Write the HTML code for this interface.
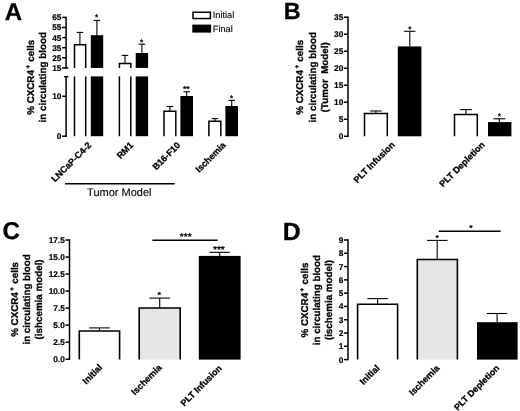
<!DOCTYPE html>
<html><head><meta charset="utf-8"><title>Figure</title>
<style>html,body{margin:0;padding:0;background:#fff;}svg{display:block;text-rendering:geometricPrecision;font-family:"Liberation Sans",sans-serif;}</style>
</head><body>
<svg width="520" height="411" viewBox="0 0 520 411" font-family="Liberation Sans, sans-serif" fill="#000">
<defs><filter id="soft" x="0" y="0" width="520" height="411" filterUnits="userSpaceOnUse"><feGaussianBlur stdDeviation="0.35"/></filter></defs>
<rect width="520" height="411" fill="#fff"/>
<g filter="url(#soft)">
<text x="4.70" y="19.60" font-size="24" font-weight="bold" text-anchor="start" stroke="#000" stroke-width="0.3" >A</text>
<text x="283.70" y="19.20" font-size="23.4" font-weight="bold" text-anchor="start" stroke="#000" stroke-width="0.3" >B</text>
<text x="2.50" y="239.30" font-size="24.2" font-weight="bold" text-anchor="start" stroke="#000" stroke-width="0.3" >C</text>
<text x="282.80" y="239.60" font-size="24.8" font-weight="bold" text-anchor="start" stroke="#000" stroke-width="0.3" >D</text>
<g id="panelA">
<line x1="66.10" y1="16.65" x2="66.10" y2="68.65" stroke="#000" stroke-width="1.5"/>
<line x1="62.10" y1="17.40" x2="66.10" y2="17.40" stroke="#000" stroke-width="1.5"/>
<text x="61.40" y="20.37" font-size="8.3" font-weight="bold" text-anchor="end" stroke="#000" stroke-width="0.2" >65</text>
<line x1="62.10" y1="27.50" x2="66.10" y2="27.50" stroke="#000" stroke-width="1.5"/>
<text x="61.40" y="30.47" font-size="8.3" font-weight="bold" text-anchor="end" stroke="#000" stroke-width="0.2" >55</text>
<line x1="62.10" y1="37.60" x2="66.10" y2="37.60" stroke="#000" stroke-width="1.5"/>
<text x="61.40" y="40.57" font-size="8.3" font-weight="bold" text-anchor="end" stroke="#000" stroke-width="0.2" >45</text>
<line x1="62.10" y1="47.70" x2="66.10" y2="47.70" stroke="#000" stroke-width="1.5"/>
<text x="61.40" y="50.67" font-size="8.3" font-weight="bold" text-anchor="end" stroke="#000" stroke-width="0.2" >35</text>
<line x1="62.10" y1="57.80" x2="66.10" y2="57.80" stroke="#000" stroke-width="1.5"/>
<text x="61.40" y="60.77" font-size="8.3" font-weight="bold" text-anchor="end" stroke="#000" stroke-width="0.2" >25</text>
<line x1="62.10" y1="67.90" x2="66.10" y2="67.90" stroke="#000" stroke-width="1.5"/>
<text x="61.40" y="70.87" font-size="8.3" font-weight="bold" text-anchor="end" stroke="#000" stroke-width="0.2" >15</text>
<line x1="66.10" y1="67.90" x2="68.30" y2="67.90" stroke="#000" stroke-width="1.5"/>
<line x1="66.10" y1="75.95" x2="66.10" y2="136.95" stroke="#000" stroke-width="1.5"/>
<line x1="63.90" y1="76.70" x2="68.30" y2="76.70" stroke="#000" stroke-width="1.5"/>
<line x1="62.10" y1="96.30" x2="66.10" y2="96.30" stroke="#000" stroke-width="1.5"/>
<text x="61.40" y="99.27" font-size="8.3" font-weight="bold" text-anchor="end" stroke="#000" stroke-width="0.2" >10</text>
<line x1="62.10" y1="136.20" x2="66.10" y2="136.20" stroke="#000" stroke-width="1.5"/>
<text x="61.40" y="139.17" font-size="8.3" font-weight="bold" text-anchor="end" stroke="#000" stroke-width="0.2" >0</text>
<text transform="translate(33.80,77.30) rotate(-90)" font-size="9.8" font-weight="bold" text-anchor="middle" stroke="#000" stroke-width="0.3">% CXCR4<tspan font-size="6.4" dy="-4.3" dx="1.5">+</tspan><tspan dy="4.3" dx="0.5"> </tspan>cells</text>
<text transform="translate(46.20,77.30) rotate(-90)" font-size="9.8" font-weight="bold" text-anchor="middle" stroke="#000" stroke-width="0.3">in circulating blood</text>
<rect x="74.50" y="44.70" width="11.20" height="23.20" fill="#fff"/>
<rect x="74.50" y="76.40" width="11.20" height="59.80" fill="#fff"/>
<path d="M74.50,67.90 L74.50,44.70 L85.70,44.70 L85.70,67.90" fill="none" stroke="#000" stroke-width="1.5" stroke-linejoin="miter"/>
<line x1="74.50" y1="76.40" x2="74.50" y2="136.20" stroke="#000" stroke-width="1.5"/>
<line x1="85.70" y1="76.40" x2="85.70" y2="136.20" stroke="#000" stroke-width="1.5"/>
<line x1="79.90" y1="32.40" x2="79.90" y2="44.70" stroke="#000" stroke-width="1.1"/>
<line x1="76.65" y1="32.40" x2="83.15" y2="32.40" stroke="#000" stroke-width="1.1"/>
<rect x="90.80" y="35.20" width="12.40" height="32.70" fill="#000"/>
<rect x="90.80" y="76.40" width="12.40" height="59.80" fill="#000"/>
<line x1="96.90" y1="20.40" x2="96.90" y2="35.20" stroke="#000" stroke-width="1.1"/>
<line x1="93.65" y1="20.40" x2="100.15" y2="20.40" stroke="#000" stroke-width="1.1"/>
<text x="96.70" y="20.40" font-size="8.2" font-weight="bold" text-anchor="middle" stroke="#000" stroke-width="0.1" >*</text>
<rect x="119.40" y="63.50" width="11.40" height="4.40" fill="#fff"/>
<rect x="119.40" y="76.40" width="11.40" height="59.80" fill="#fff"/>
<path d="M119.40,67.90 L119.40,63.50 L130.80,63.50 L130.80,67.90" fill="none" stroke="#000" stroke-width="1.5" stroke-linejoin="miter"/>
<line x1="119.40" y1="76.40" x2="119.40" y2="136.20" stroke="#000" stroke-width="1.5"/>
<line x1="130.80" y1="76.40" x2="130.80" y2="136.20" stroke="#000" stroke-width="1.5"/>
<line x1="125.00" y1="55.40" x2="125.00" y2="63.50" stroke="#000" stroke-width="1.1"/>
<line x1="121.75" y1="55.40" x2="128.25" y2="55.40" stroke="#000" stroke-width="1.1"/>
<rect x="135.70" y="53.00" width="12.40" height="14.90" fill="#000"/>
<rect x="135.70" y="76.40" width="12.40" height="59.80" fill="#000"/>
<line x1="141.90" y1="44.20" x2="141.90" y2="53.00" stroke="#000" stroke-width="1.1"/>
<line x1="138.65" y1="44.20" x2="145.15" y2="44.20" stroke="#000" stroke-width="1.1"/>
<text x="141.60" y="44.80" font-size="8.2" font-weight="bold" text-anchor="middle" stroke="#000" stroke-width="0.1" >*</text>
<rect x="164.00" y="111.30" width="11.80" height="24.90" fill="#fff"/>
<path d="M164.00,136.20 L164.00,111.30 L175.80,111.30 L175.80,136.20" fill="none" stroke="#000" stroke-width="1.5" stroke-linejoin="miter"/>
<line x1="169.90" y1="106.50" x2="169.90" y2="111.30" stroke="#000" stroke-width="1.1"/>
<line x1="166.65" y1="106.50" x2="173.15" y2="106.50" stroke="#000" stroke-width="1.1"/>
<rect x="180.40" y="96.00" width="12.60" height="40.20" fill="#000"/>
<line x1="186.70" y1="91.70" x2="186.70" y2="96.00" stroke="#000" stroke-width="1.1"/>
<line x1="183.45" y1="91.70" x2="189.95" y2="91.70" stroke="#000" stroke-width="1.1"/>
<text x="186.30" y="92.41" font-size="8.6" font-weight="bold" text-anchor="middle" stroke="#000" stroke-width="0.1" >**</text>
<rect x="208.90" y="121.20" width="11.90" height="15.00" fill="#fff"/>
<path d="M208.90,136.20 L208.90,121.20 L220.80,121.20 L220.80,136.20" fill="none" stroke="#000" stroke-width="1.5" stroke-linejoin="miter"/>
<line x1="214.90" y1="118.60" x2="214.90" y2="121.20" stroke="#000" stroke-width="1.1"/>
<line x1="211.65" y1="118.60" x2="218.15" y2="118.60" stroke="#000" stroke-width="1.1"/>
<rect x="225.40" y="106.00" width="12.60" height="30.20" fill="#000"/>
<line x1="231.70" y1="100.40" x2="231.70" y2="106.00" stroke="#000" stroke-width="1.1"/>
<line x1="228.45" y1="100.40" x2="234.95" y2="100.40" stroke="#000" stroke-width="1.1"/>
<text x="231.70" y="101.00" font-size="8.2" font-weight="bold" text-anchor="middle" stroke="#000" stroke-width="0.1" >*</text>
<text transform="translate(91.90,145.80) rotate(-45)" font-size="9.0" font-weight="bold" text-anchor="end" stroke="#000" stroke-width="0.3">LNCaP-C4-2</text>
<text transform="translate(133.90,145.80) rotate(-45)" font-size="9.0" font-weight="bold" text-anchor="end" stroke="#000" stroke-width="0.3">RM1</text>
<text transform="translate(180.90,145.80) rotate(-45)" font-size="9.0" font-weight="bold" text-anchor="end" stroke="#000" stroke-width="0.3">B16-F10</text>
<text transform="translate(226.40,145.80) rotate(-45)" font-size="9.0" font-weight="bold" text-anchor="end" stroke="#000" stroke-width="0.3">Ischemia</text>
<line x1="65.00" y1="183.80" x2="174.60" y2="183.80" stroke="#000" stroke-width="1.5"/>
<text x="119.30" y="195.80" font-size="11" font-weight="normal" text-anchor="middle" stroke="#000" stroke-width="0.12" >Tumor Model</text>
<rect x="193.0" y="12.25" width="17.4" height="6.3" fill="#fff" stroke="#000" stroke-width="1.5"/>
<rect x="192.3" y="24.6" width="18.8" height="8.0" fill="#000"/>
<text x="212.80" y="18.30" font-size="9.2" font-weight="normal" text-anchor="start" stroke="#000" stroke-width="0.12" >Initial</text>
<text x="212.80" y="31.60" font-size="9.2" font-weight="normal" text-anchor="start" stroke="#000" stroke-width="0.12" >Final</text>
</g>
<g id="panelB">
<line x1="348.00" y1="16.45" x2="348.00" y2="137.05" stroke="#000" stroke-width="1.5"/>
<line x1="344.00" y1="17.20" x2="348.00" y2="17.20" stroke="#000" stroke-width="1.5"/>
<text x="343.30" y="20.17" font-size="8.3" font-weight="bold" text-anchor="end" stroke="#000" stroke-width="0.2" >35</text>
<line x1="344.00" y1="34.21" x2="348.00" y2="34.21" stroke="#000" stroke-width="1.5"/>
<text x="343.30" y="37.19" font-size="8.3" font-weight="bold" text-anchor="end" stroke="#000" stroke-width="0.2" >30</text>
<line x1="344.00" y1="51.23" x2="348.00" y2="51.23" stroke="#000" stroke-width="1.5"/>
<text x="343.30" y="54.20" font-size="8.3" font-weight="bold" text-anchor="end" stroke="#000" stroke-width="0.2" >25</text>
<line x1="344.00" y1="68.24" x2="348.00" y2="68.24" stroke="#000" stroke-width="1.5"/>
<text x="343.30" y="71.21" font-size="8.3" font-weight="bold" text-anchor="end" stroke="#000" stroke-width="0.2" >20</text>
<line x1="344.00" y1="85.26" x2="348.00" y2="85.26" stroke="#000" stroke-width="1.5"/>
<text x="343.30" y="88.23" font-size="8.3" font-weight="bold" text-anchor="end" stroke="#000" stroke-width="0.2" >15</text>
<line x1="344.00" y1="102.27" x2="348.00" y2="102.27" stroke="#000" stroke-width="1.5"/>
<text x="343.30" y="105.24" font-size="8.3" font-weight="bold" text-anchor="end" stroke="#000" stroke-width="0.2" >10</text>
<line x1="344.00" y1="119.29" x2="348.00" y2="119.29" stroke="#000" stroke-width="1.5"/>
<text x="343.30" y="122.26" font-size="8.3" font-weight="bold" text-anchor="end" stroke="#000" stroke-width="0.2" >5</text>
<line x1="344.00" y1="136.30" x2="348.00" y2="136.30" stroke="#000" stroke-width="1.5"/>
<text x="343.30" y="139.27" font-size="8.3" font-weight="bold" text-anchor="end" stroke="#000" stroke-width="0.2" >0</text>
<text transform="translate(303.30,77.30) rotate(-90)" font-size="9.8" font-weight="bold" text-anchor="middle" stroke="#000" stroke-width="0.3">% CXCR4<tspan font-size="6.4" dy="-4.3" dx="1.5">+</tspan><tspan dy="4.3" dx="0.5"> </tspan>cells</text>
<text transform="translate(315.80,77.30) rotate(-90)" font-size="9.8" font-weight="bold" text-anchor="middle" stroke="#000" stroke-width="0.3">in circulating blood</text>
<text transform="translate(328.00,77.30) rotate(-90)" font-size="9.8" font-weight="bold" text-anchor="middle" stroke="#000" stroke-width="0.3">(Tumor&#160;&#160;Model)</text>
<rect x="364.50" y="113.60" width="22.80" height="22.70" fill="#fff"/>
<path d="M364.50,136.30 L364.50,113.60 L387.30,113.60 L387.30,136.30" fill="none" stroke="#000" stroke-width="1.5" stroke-linejoin="miter"/>
<line x1="375.90" y1="111.00" x2="375.90" y2="113.60" stroke="#000" stroke-width="1.1"/>
<line x1="370.15" y1="111.00" x2="381.65" y2="111.00" stroke="#000" stroke-width="1.1"/>
<rect x="397.80" y="46.40" width="23.60" height="89.90" fill="#000"/>
<line x1="409.80" y1="31.30" x2="409.80" y2="46.40" stroke="#000" stroke-width="1.1"/>
<line x1="404.10" y1="31.30" x2="415.50" y2="31.30" stroke="#000" stroke-width="1.1"/>
<text x="409.90" y="31.60" font-size="8.2" font-weight="bold" text-anchor="middle" stroke="#000" stroke-width="0.1" >*</text>
<rect x="454.50" y="114.40" width="22.80" height="21.90" fill="#fff"/>
<path d="M454.50,136.30 L454.50,114.40 L477.30,114.40 L477.30,136.30" fill="none" stroke="#000" stroke-width="1.5" stroke-linejoin="miter"/>
<line x1="465.90" y1="109.60" x2="465.90" y2="114.40" stroke="#000" stroke-width="1.1"/>
<line x1="459.90" y1="109.60" x2="471.90" y2="109.60" stroke="#000" stroke-width="1.1"/>
<rect x="488.00" y="122.10" width="23.40" height="14.20" fill="#000"/>
<line x1="499.40" y1="118.80" x2="499.40" y2="122.10" stroke="#000" stroke-width="1.1"/>
<line x1="493.40" y1="118.80" x2="505.40" y2="118.80" stroke="#000" stroke-width="1.1"/>
<text x="499.40" y="118.80" font-size="8.2" font-weight="bold" text-anchor="middle" stroke="#000" stroke-width="0.1" >*</text>
<text transform="translate(395.30,145.40) rotate(-45)" font-size="9.0" font-weight="bold" text-anchor="end" stroke="#000" stroke-width="0.3">PLT Infusion</text>
<text transform="translate(485.40,145.30) rotate(-45)" font-size="9.0" font-weight="bold" text-anchor="end" stroke="#000" stroke-width="0.3">PLT Depletion</text>
</g>
<g id="panelC">
<line x1="69.50" y1="239.25" x2="69.50" y2="359.95" stroke="#000" stroke-width="1.5"/>
<line x1="65.50" y1="240.00" x2="69.50" y2="240.00" stroke="#000" stroke-width="1.5"/>
<text x="64.80" y="242.97" font-size="8.3" font-weight="bold" text-anchor="end" stroke="#000" stroke-width="0.2" >17.5</text>
<line x1="65.50" y1="257.03" x2="69.50" y2="257.03" stroke="#000" stroke-width="1.5"/>
<text x="64.80" y="260.00" font-size="8.3" font-weight="bold" text-anchor="end" stroke="#000" stroke-width="0.2" >15.0</text>
<line x1="65.50" y1="274.06" x2="69.50" y2="274.06" stroke="#000" stroke-width="1.5"/>
<text x="64.80" y="277.03" font-size="8.3" font-weight="bold" text-anchor="end" stroke="#000" stroke-width="0.2" >12.5</text>
<line x1="65.50" y1="291.09" x2="69.50" y2="291.09" stroke="#000" stroke-width="1.5"/>
<text x="64.80" y="294.06" font-size="8.3" font-weight="bold" text-anchor="end" stroke="#000" stroke-width="0.2" >10.0</text>
<line x1="65.50" y1="308.11" x2="69.50" y2="308.11" stroke="#000" stroke-width="1.5"/>
<text x="64.80" y="311.09" font-size="8.3" font-weight="bold" text-anchor="end" stroke="#000" stroke-width="0.2" >7.5</text>
<line x1="65.50" y1="325.14" x2="69.50" y2="325.14" stroke="#000" stroke-width="1.5"/>
<text x="64.80" y="328.11" font-size="8.3" font-weight="bold" text-anchor="end" stroke="#000" stroke-width="0.2" >5.0</text>
<line x1="65.50" y1="342.17" x2="69.50" y2="342.17" stroke="#000" stroke-width="1.5"/>
<text x="64.80" y="345.14" font-size="8.3" font-weight="bold" text-anchor="end" stroke="#000" stroke-width="0.2" >2.5</text>
<line x1="65.50" y1="359.20" x2="69.50" y2="359.20" stroke="#000" stroke-width="1.5"/>
<text x="64.80" y="362.17" font-size="8.3" font-weight="bold" text-anchor="end" stroke="#000" stroke-width="0.2" >0.0</text>
<text transform="translate(18.30,299.40) rotate(-90)" font-size="9.8" font-weight="bold" text-anchor="middle" stroke="#000" stroke-width="0.3">% CXCR4<tspan font-size="6.4" dy="-4.3" dx="1.5">+</tspan><tspan dy="4.3" dx="0.5"> </tspan>cells</text>
<text transform="translate(30.10,299.40) rotate(-90)" font-size="9.8" font-weight="bold" text-anchor="middle" stroke="#000" stroke-width="0.3">in circulating blood</text>
<text transform="translate(41.50,299.40) rotate(-90)" font-size="9.8" font-weight="bold" text-anchor="middle" stroke="#000" stroke-width="0.3">(ishcemia model)</text>
<rect x="79.30" y="331.00" width="40.30" height="28.60" fill="#fff"/>
<path d="M79.30,359.60 L79.30,331.00 L119.60,331.00 L119.60,359.60" fill="none" stroke="#000" stroke-width="1.6" stroke-linejoin="miter"/>
<line x1="99.40" y1="327.90" x2="99.40" y2="331.00" stroke="#000" stroke-width="1.1"/>
<line x1="89.15" y1="327.90" x2="109.65" y2="327.90" stroke="#000" stroke-width="1.1"/>
<rect x="139.20" y="308.00" width="41.00" height="51.60" fill="#e6e6e6"/>
<path d="M139.20,359.60 L139.20,308.00 L180.20,308.00 L180.20,359.60" fill="none" stroke="#000" stroke-width="1.6" stroke-linejoin="miter"/>
<line x1="159.70" y1="298.10" x2="159.70" y2="308.00" stroke="#000" stroke-width="1.1"/>
<line x1="149.45" y1="298.10" x2="169.95" y2="298.10" stroke="#000" stroke-width="1.1"/>
<text x="159.30" y="298.41" font-size="9.0" font-weight="bold" text-anchor="middle" stroke="#000" stroke-width="0.1" >*</text>
<rect x="198.80" y="255.90" width="41.80" height="103.70" fill="#000"/>
<line x1="219.70" y1="252.30" x2="219.70" y2="255.90" stroke="#000" stroke-width="1.1"/>
<line x1="209.45" y1="252.30" x2="229.95" y2="252.30" stroke="#000" stroke-width="1.1"/>
<text x="218.90" y="253.43" font-size="10.2" font-weight="bold" text-anchor="middle" stroke="#000" stroke-width="0.1" >***</text>
<line x1="152.40" y1="240.30" x2="217.60" y2="240.30" stroke="#000" stroke-width="1.4"/>
<text x="185.70" y="240.32" font-size="10.0" font-weight="bold" text-anchor="middle" stroke="#000" stroke-width="0.1" >***</text>
<text transform="translate(102.90,368.00) rotate(-45)" font-size="9.0" font-weight="bold" text-anchor="end" stroke="#000" stroke-width="0.3">Initial</text>
<text transform="translate(162.30,368.20) rotate(-45)" font-size="9.0" font-weight="bold" text-anchor="end" stroke="#000" stroke-width="0.3">Ischemia</text>
<text transform="translate(222.40,368.80) rotate(-45)" font-size="9.0" font-weight="bold" text-anchor="end" stroke="#000" stroke-width="0.3">PLT Infusion</text>
</g>
<g id="panelD">
<line x1="348.00" y1="239.25" x2="348.00" y2="360.35" stroke="#000" stroke-width="1.5"/>
<line x1="344.00" y1="240.00" x2="348.00" y2="240.00" stroke="#000" stroke-width="1.5"/>
<text x="343.30" y="242.97" font-size="8.3" font-weight="bold" text-anchor="end" stroke="#000" stroke-width="0.2" >9</text>
<line x1="344.00" y1="253.29" x2="348.00" y2="253.29" stroke="#000" stroke-width="1.5"/>
<text x="343.30" y="256.26" font-size="8.3" font-weight="bold" text-anchor="end" stroke="#000" stroke-width="0.2" >8</text>
<line x1="344.00" y1="266.58" x2="348.00" y2="266.58" stroke="#000" stroke-width="1.5"/>
<text x="343.30" y="269.55" font-size="8.3" font-weight="bold" text-anchor="end" stroke="#000" stroke-width="0.2" >7</text>
<line x1="344.00" y1="279.87" x2="348.00" y2="279.87" stroke="#000" stroke-width="1.5"/>
<text x="343.30" y="282.84" font-size="8.3" font-weight="bold" text-anchor="end" stroke="#000" stroke-width="0.2" >6</text>
<line x1="344.00" y1="293.16" x2="348.00" y2="293.16" stroke="#000" stroke-width="1.5"/>
<text x="343.30" y="296.13" font-size="8.3" font-weight="bold" text-anchor="end" stroke="#000" stroke-width="0.2" >5</text>
<line x1="344.00" y1="306.44" x2="348.00" y2="306.44" stroke="#000" stroke-width="1.5"/>
<text x="343.30" y="309.42" font-size="8.3" font-weight="bold" text-anchor="end" stroke="#000" stroke-width="0.2" >4</text>
<line x1="344.00" y1="319.73" x2="348.00" y2="319.73" stroke="#000" stroke-width="1.5"/>
<text x="343.30" y="322.70" font-size="8.3" font-weight="bold" text-anchor="end" stroke="#000" stroke-width="0.2" >3</text>
<line x1="344.00" y1="333.02" x2="348.00" y2="333.02" stroke="#000" stroke-width="1.5"/>
<text x="343.30" y="335.99" font-size="8.3" font-weight="bold" text-anchor="end" stroke="#000" stroke-width="0.2" >2</text>
<line x1="344.00" y1="346.31" x2="348.00" y2="346.31" stroke="#000" stroke-width="1.5"/>
<text x="343.30" y="349.28" font-size="8.3" font-weight="bold" text-anchor="end" stroke="#000" stroke-width="0.2" >1</text>
<line x1="344.00" y1="359.60" x2="348.00" y2="359.60" stroke="#000" stroke-width="1.5"/>
<text x="343.30" y="362.57" font-size="8.3" font-weight="bold" text-anchor="end" stroke="#000" stroke-width="0.2" >0</text>
<text transform="translate(307.80,300.10) rotate(-90)" font-size="9.8" font-weight="bold" text-anchor="middle" stroke="#000" stroke-width="0.3">% CXCR4<tspan font-size="6.4" dy="-4.3" dx="1.5">+</tspan><tspan dy="4.3" dx="0.5"> </tspan>cells</text>
<text transform="translate(320.40,300.10) rotate(-90)" font-size="9.8" font-weight="bold" text-anchor="middle" stroke="#000" stroke-width="0.3">in circulating blood</text>
<text transform="translate(332.10,300.10) rotate(-90)" font-size="9.8" font-weight="bold" text-anchor="middle" stroke="#000" stroke-width="0.3">(ischemia model)</text>
<rect x="357.60" y="304.30" width="40.00" height="55.30" fill="#fff"/>
<path d="M357.60,359.60 L357.60,304.30 L397.60,304.30 L397.60,359.60" fill="none" stroke="#000" stroke-width="1.6" stroke-linejoin="miter"/>
<line x1="377.60" y1="298.60" x2="377.60" y2="304.30" stroke="#000" stroke-width="1.1"/>
<line x1="367.35" y1="298.60" x2="387.85" y2="298.60" stroke="#000" stroke-width="1.1"/>
<rect x="417.30" y="259.50" width="40.10" height="100.10" fill="#e6e6e6"/>
<path d="M417.30,359.60 L417.30,259.50 L457.40,259.50 L457.40,359.60" fill="none" stroke="#000" stroke-width="1.6" stroke-linejoin="miter"/>
<line x1="437.20" y1="240.40" x2="437.20" y2="259.50" stroke="#000" stroke-width="1.1"/>
<line x1="426.95" y1="240.40" x2="447.45" y2="240.40" stroke="#000" stroke-width="1.1"/>
<text x="437.20" y="240.61" font-size="8.6" font-weight="bold" text-anchor="middle" stroke="#000" stroke-width="0.1" >*</text>
<rect x="477.00" y="322.20" width="40.60" height="37.40" fill="#000"/>
<line x1="497.10" y1="313.50" x2="497.10" y2="322.20" stroke="#000" stroke-width="1.1"/>
<line x1="486.85" y1="313.50" x2="507.35" y2="313.50" stroke="#000" stroke-width="1.1"/>
<line x1="438.80" y1="231.30" x2="500.70" y2="231.30" stroke="#000" stroke-width="1.4"/>
<text x="471.00" y="230.71" font-size="8.6" font-weight="bold" text-anchor="middle" stroke="#000" stroke-width="0.1" >*</text>
<text transform="translate(380.20,368.60) rotate(-45)" font-size="9.0" font-weight="bold" text-anchor="end" stroke="#000" stroke-width="0.3">Initial</text>
<text transform="translate(440.00,368.70) rotate(-45)" font-size="9.0" font-weight="bold" text-anchor="end" stroke="#000" stroke-width="0.3">Ischemia</text>
<text transform="translate(500.00,368.70) rotate(-45)" font-size="9.0" font-weight="bold" text-anchor="end" stroke="#000" stroke-width="0.3">PLT Depletion</text>
</g>
</g>
</svg></body></html>
